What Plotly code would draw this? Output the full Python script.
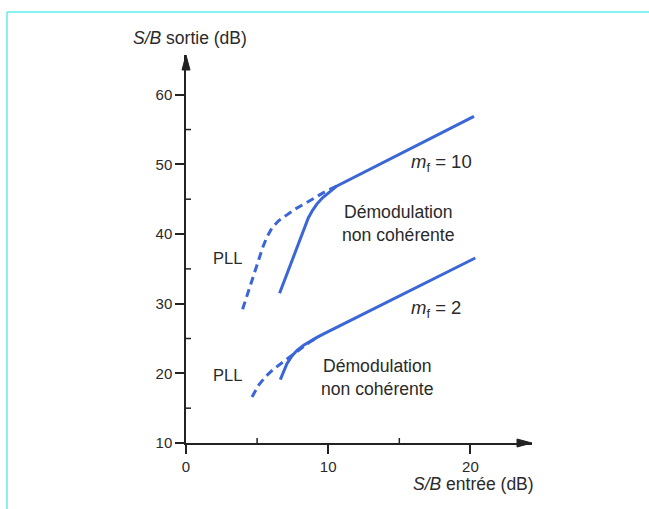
import plotly.graph_objects as go

# ---- data ----
mf10_noncoh_x = [6.58, 7.45, 8.32, 8.6, 8.9, 9.2, 9.6, 10.1, 10.62, 20.25]
mf10_noncoh_y = [31.5, 36.2, 40.9, 42.3, 43.4, 44.3, 45.2, 46.1, 46.9, 56.9]
mf10_pll_x = [3.98, 4.4, 4.75, 5.11, 5.4, 5.7, 6.05, 6.51, 7.1, 7.69, 8.39, 9.09, 9.8, 10.62]
mf10_pll_y = [29.2, 31.8, 34.1, 36.3, 38.1, 39.6, 40.9, 41.9, 42.8, 43.6, 44.4, 45.2, 46.1, 46.9]

mf2_noncoh_x = [6.63, 6.86, 7.1, 7.45, 7.81, 8.27, 8.74, 9.21, 9.68, 20.34]
mf2_noncoh_y = [19.1, 20.3, 21.4, 22.5, 23.3, 24.05, 24.65, 25.17, 25.67, 36.56]
mf2_pll_x = [4.64, 5.11, 5.58, 6.16, 6.86, 7.57, 8.16, 8.74, 9.21]
mf2_pll_y = [16.6, 18.3, 19.5, 20.6, 21.7, 22.8, 23.7, 24.55, 25.1]

x_ticks = [0, 10, 20]
x_minor = [5, 15]
y_ticks = [10, 20, 30, 40, 50, 60]
y_minor = [15, 25, 35, 45, 55]
x_max = 24.33
y_max = 65.7

BLUE = "#3b66d6"
TXT = "#2a2a2a"
AX = "#222222"
FONT = "Liberation Sans, Arial, sans-serif"

L, R, T, B, W, H = 186, 117, 55, 66, 649, 509
PW, PH = W - L - R, H - T - B

fig = go.Figure()
fig.add_trace(go.Scatter(x=mf10_pll_x, y=mf10_pll_y, mode="lines",
                         line=dict(color=BLUE, width=3, dash="8px,5px")))
fig.add_trace(go.Scatter(x=mf10_noncoh_x, y=mf10_noncoh_y, mode="lines",
                         line=dict(color=BLUE, width=3)))
fig.add_trace(go.Scatter(x=mf2_pll_x, y=mf2_pll_y, mode="lines",
                         line=dict(color=BLUE, width=3, dash="8px,5px")))
fig.add_trace(go.Scatter(x=mf2_noncoh_x, y=mf2_noncoh_y, mode="lines",
                         line=dict(color=BLUE, width=3)))

axis_common = dict(showline=True, linecolor=AX, linewidth=1.5, showgrid=False, zeroline=False,
                   ticks="outside", ticklen=9, tickwidth=1.5, tickcolor=AX,
                   tickfont=dict(family=FONT, size=15, color=TXT))

fig.update_xaxes(range=[0, x_max], tickmode="array", tickvals=x_ticks, **axis_common)
fig.update_yaxes(range=[10, y_max], tickmode="array", tickvals=y_ticks, **axis_common)

# minor ticks on the inner side of the axes
for v in x_minor:
    fig.add_shape(type="line", xref="x", yref="paper", x0=v, x1=v, y0=0, y1=5 / PH,
                  line=dict(color=AX, width=1.5))
for v in y_minor:
    fig.add_shape(type="line", xref="paper", yref="y", x0=0, x1=5 / PW, y0=v, y1=v,
                  line=dict(color=AX, width=1.5))

# arrow heads at axis ends
ah_len, ah_half = 15, 4
fig.add_shape(type="path", xref="paper", yref="paper",
              path=f"M 1 0 L {1 - ah_len / PW} {ah_half / PH} L {1 - ah_len / PW} {-ah_half / PH} Z",
              fillcolor=AX, line=dict(color=AX, width=1))
fig.add_shape(type="path", xref="paper", yref="paper",
              path=f"M 0 1 L {ah_half / PW} {1 - ah_len / PH} L {-ah_half / PW} {1 - ah_len / PH} Z",
              fillcolor=AX, line=dict(color=AX, width=1))


def txt(x, y, s, size=17, xref="x", yref="y", align="center"):
    fig.add_annotation(x=x, y=y, xref=xref, yref=yref, text=s, showarrow=False,
                       font=dict(family=FONT, size=size, color=TXT), align=align,
                       xanchor="center", yanchor="middle")


txt(17.95, 50.2, "<i>m</i><sub>f</sub> = 10", size=18.5)
txt(14.93, 41.55, "Démodulation<br>non cohérente", size=17.6)
txt(2.9, 36.6, "PLL", size=16.5)
txt(17.6, 29.2, "<i>m</i><sub>f</sub> = 2", size=18.5)
txt(13.49, 19.4, "Démodulation<br>non cohérente", size=17.6)
txt(2.9, 19.8, "PLL", size=16.5)

txt((190 - L) / PW, (H - B - 38) / PH, "<i>S/B</i> sortie (dB)", size=17.5, xref="paper", yref="paper")
txt((473.5 - L) / PW, (H - B - 484) / PH, "<i>S/B</i> entrée (dB)", size=17.5, xref="paper", yref="paper")

# cyan frame lines (page decoration)
fx = (7 - L) / PW
fy = (H - B - 12) / PH
fig.add_shape(type="line", xref="paper", yref="paper", x0=fx, x1=fx, y0=-0.3, y1=fy,
              line=dict(color="#5eeeee", width=1.5))
fig.add_shape(type="line", xref="paper", yref="paper", x0=fx, x1=1.5, y0=fy, y1=fy,
              line=dict(color="#5eeeee", width=1.5))

fig.update_layout(width=W, height=H, margin=dict(l=L, r=R, t=T, b=B),
                  paper_bgcolor="white", plot_bgcolor="white", showlegend=False,
                  font=dict(family=FONT, color=TXT))

fig.write_html("out.html")
